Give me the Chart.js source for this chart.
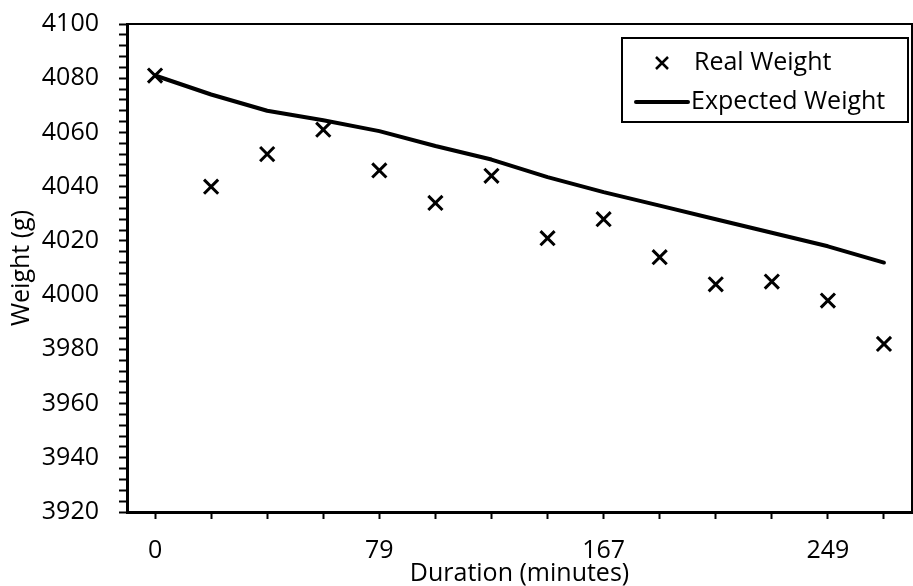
<!DOCTYPE html>
<html>
<head>
<meta charset="utf-8">
<script src="https://cdn.jsdelivr.net/npm/chart.js@4.4.0/dist/chart.umd.min.js"></script>
<style>
  html, body { margin: 0; padding: 0; background: #fff; overflow: hidden; }
  #wrap { width: 925px; height: 586px; }
</style>
</head>
<body>
<div id="wrap"><canvas id="myChart" width="925" height="586"></canvas></div>
<script>
// durations in minutes (only every 4th label is shown on the axis)
const durations = [0, 20, 40, 59, 79, 101, 123, 145, 167, 187, 208, 228, 249, 270];
const realWeight = [4081, 4040, 4052, 4061, 4046, 4034, 4044, 4021, 4028, 4014, 4004, 4005, 3998, 3982];
const expectedWeight = [4081, 4074, 4068, 4064.5, 4060.5, 4055, 4050, 4043.5, 4038, 4033, 4028, 4023, 4018, 4012];
const seriesNames = ['Real Weight', 'Expected Weight'];

const FONT = "'Open Sans', sans-serif";
const FONT_SIZE = 25;

// legend drawn as a boxed legend inside the plot, like the original
const boxedLegend = {
  id: 'boxedLegend',
  afterDraw(chart) {
    const ctx = chart.ctx;
    const area = chart.chartArea;
    // plot frame (top + right edge)
    ctx.save();
    ctx.strokeStyle = '#000';
    ctx.lineWidth = 2;
    ctx.beginPath();
    ctx.moveTo(area.left, area.top);
    ctx.lineTo(area.right, area.top);
    ctx.lineTo(area.right, area.bottom);
    ctx.stroke();

    const x = 622, y = 38, w = 286, h = 84;
    ctx.fillStyle = '#fff';
    ctx.fillRect(x, y, w, h);
    ctx.strokeRect(x, y, w, h);

    ctx.font = FONT_SIZE + 'px ' + FONT;
    ctx.fillStyle = '#000';
    ctx.textBaseline = 'middle';
    ctx.textAlign = 'left';

    // Real Weight: x marker
    const r1 = y + 25;
    const mx = 662, s = 6;
    ctx.lineWidth = 2.5;
    ctx.beginPath();
    ctx.moveTo(mx - s, r1 - s); ctx.lineTo(mx + s, r1 + s);
    ctx.moveTo(mx + s, r1 - s); ctx.lineTo(mx - s, r1 + s);
    ctx.stroke();
    ctx.fillText(seriesNames[0], 694, r1);

    // Expected Weight: line
    const r2 = y + 64;
    ctx.lineWidth = 4;
    ctx.lineCap = 'round';
    ctx.beginPath();
    ctx.moveTo(636, r2); ctx.lineTo(688, r2);
    ctx.stroke();
    ctx.fillText(seriesNames[1], 691, r2);
    ctx.restore();
  }
};

const config = {
  type: 'line',
  data: {
    labels: durations.map(String),
    datasets: [
      {
        label: seriesNames[0],
        data: realWeight,
        showLine: false,
        pointStyle: 'crossRot',
        pointRadius: 10,
        pointHoverRadius: 10,
        pointBorderWidth: 3,
        borderColor: '#000',
        backgroundColor: '#000',
        order: 1,
      },
      {
        label: seriesNames[1],
        data: expectedWeight,
        borderColor: '#000',
        borderWidth: 4,
        pointRadius: 0,
        tension: 0,
        borderCapStyle: 'round',
        borderJoinStyle: 'round',
        order: 2,
      },
    ],
  },
  options: {
    responsive: false,
    animation: false,
    events: [],
    layout: { padding: { left: 0, top: 24, right: 1, bottom: 0 } },
    plugins: {
      legend: false,
      tooltip: { enabled: false },
    },
    scales: {
      x: {
        type: 'category',
        offset: true,
        border: { color: '#000', width: 3 },
        grid: {
          offset: false,
          drawOnChartArea: false,
          drawTicks: true,
          tickLength: 7,
          tickColor: '#000',
          tickWidth: 2,
        },
        ticks: {
          autoSkip: false,
          maxRotation: 0,
          color: '#000',
          padding: 17,
          font: { family: FONT, size: FONT_SIZE },
          callback: function (val, idx) {
            return idx % 4 === 0 ? durations[idx] : '';
          },
        },
        title: {
          display: true,
          text: 'Duration (minutes)',
          color: '#000',
          padding: { top: 0, bottom: 0 },
          font: { family: FONT, size: FONT_SIZE, lineHeight: 1 },
        },
        afterFit: function (scale) {
          scale.height = 74;
          scale.paddingLeft = 0;
          scale.paddingRight = 0;
        },
      },
      y: {
        min: 3920,
        max: 4100,
        border: { color: '#000', width: 3 },
        grid: {
          drawOnChartArea: false,
          drawTicks: true,
          tickLength: 8,
          tickColor: '#000',
          tickWidth: 2,
        },
        ticks: {
          stepSize: 4,
          autoSkip: false,
          color: '#000',
          padding: 20,
          font: { family: FONT, size: FONT_SIZE },
          callback: function (v) {
            return v % 20 === 0 ? v : '';
          },
        },
        title: {
          display: true,
          text: 'Weight (g)',
          color: '#000',
          padding: { top: 7, bottom: 0 },
          font: { family: FONT, size: FONT_SIZE },
        },
        afterFit: function (scale) {
          scale.width = 127;
          scale.paddingTop = 0;
          scale.paddingBottom = 0;
        },
      },
    },
  },
  plugins: [boxedLegend],
};

const context = document.getElementById('myChart').getContext('2d');
const chart = new Chart(context, config);
</script>
</body>
</html>
